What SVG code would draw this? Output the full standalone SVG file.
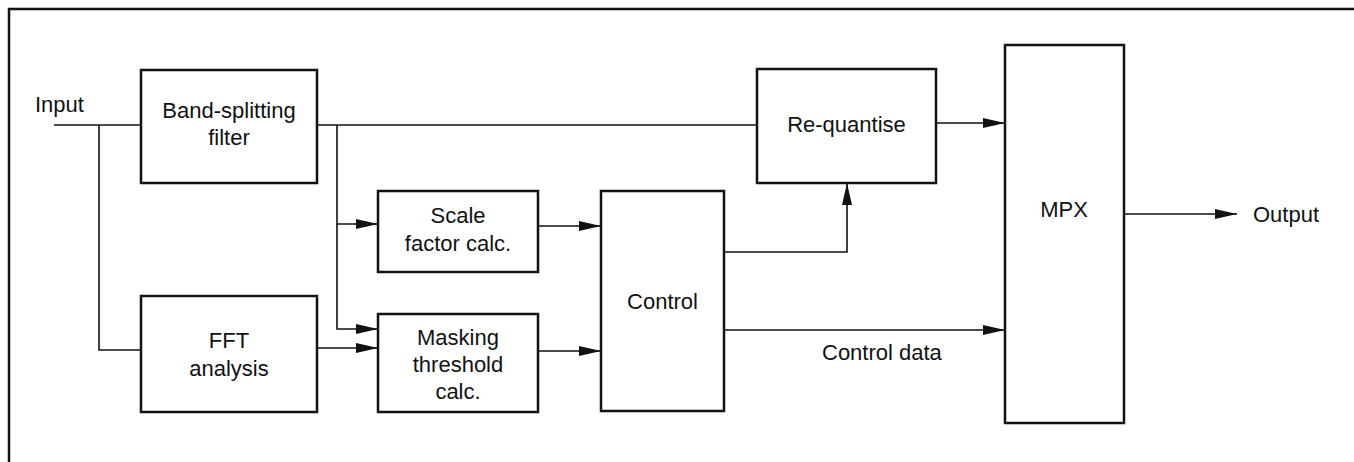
<svg xmlns="http://www.w3.org/2000/svg" width="1354" height="462" viewBox="0 0 1354 462">
<style>
.box{fill:#fff;stroke:#111;stroke-width:2.5}
.ln{fill:none;stroke:#111;stroke-width:1.6}
text{font-family:"Liberation Sans",Arial,sans-serif;font-size:22px;fill:#111}
.c{text-anchor:middle}
</style>
<defs>
<marker id="ah" markerWidth="22" markerHeight="12" refX="22" refY="6" orient="auto" markerUnits="userSpaceOnUse">
<path d="M0,1 L22,6 L0,11 Z" fill="#111"/>
</marker>
</defs>
<rect width="1354" height="462" fill="#fff"/>
<path d="M9,462 V9 H1354" fill="none" stroke="#111" stroke-width="2.5"/>
<g id="connectors">
<path class="ln" d="M54,125 H141"/>
<path class="ln" d="M99,125 V350 H141"/>
<path class="ln" d="M317,125 H757"/>
<path class="ln" d="M337,125 V224 H378" marker-end="url(#ah)"/>
<path class="ln" d="M337,224 V329 H378" marker-end="url(#ah)"/>
<path class="ln" d="M317,348 H378" marker-end="url(#ah)"/>
<path class="ln" d="M538,226 H601" marker-end="url(#ah)"/>
<path class="ln" d="M538,351 H601" marker-end="url(#ah)"/>
<path class="ln" d="M724,252 H847 V183" marker-end="url(#ah)"/>
<path class="ln" d="M724,330 H1005" marker-end="url(#ah)"/>
<path class="ln" d="M936,123 H1005" marker-end="url(#ah)"/>
<path class="ln" d="M1124,214 H1237" marker-end="url(#ah)"/>
<text x="35" y="112">Input</text>
<text x="822" y="360">Control data</text>
<text x="1253" y="222">Output</text>
</g>
<g id="band-filter">
<rect class="box" x="141" y="70" width="176" height="113"/>
<text class="c" x="229" y="118">Band-splitting</text>
<text class="c" x="229" y="145">filter</text>
</g>
<g id="fft">
<rect class="box" x="141" y="296" width="176" height="116"/>
<text class="c" x="229" y="348">FFT</text>
<text class="c" x="229" y="376">analysis</text>
</g>
<g id="scale">
<rect class="box" x="378" y="191" width="160" height="81"/>
<text class="c" x="458" y="223">Scale</text>
<text class="c" x="458" y="251">factor calc.</text>
</g>
<g id="masking">
<rect class="box" x="378" y="314" width="160" height="98"/>
<text class="c" x="458" y="345">Masking</text>
<text class="c" x="458" y="372">threshold</text>
<text class="c" x="458" y="399">calc.</text>
</g>
<g id="control">
<rect class="box" x="601" y="191" width="123" height="220"/>
<text class="c" x="662.5" y="309">Control</text>
</g>
<g id="requantise">
<rect class="box" x="757" y="69" width="179" height="114"/>
<text class="c" x="846.5" y="132">Re-quantise</text>
</g>
<g id="mpx">
<rect class="box" x="1005" y="45" width="119" height="378"/>
<text class="c" x="1064" y="217">MPX</text>
</g>
</svg>
